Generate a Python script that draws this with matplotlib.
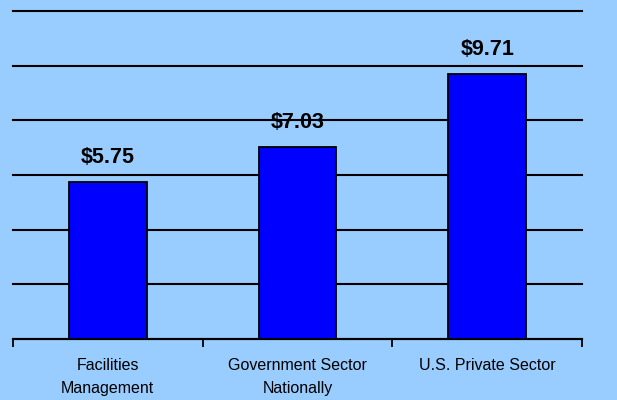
import matplotlib.pyplot as plt
import numpy as np

# data
categories = ["Facilities\nManagement", "Government Sector\nNationally", "U.S. Private Sector"]
values = [5.75, 7.03, 9.71]
value_labels = ["$5.75", "$7.03", "$9.71"]

bg = "#99CCFF"
bar_color = "#0000FF"

plt.rcParams['font.family'] = ['Liberation Sans', 'DejaVu Sans']

fig = plt.figure(figsize=(6.17, 4.0), dpi=100, facecolor=bg)
ax = fig.add_axes([13 / 617, 61 / 400, 569 / 617, 328 / 400], facecolor=bg)

x = np.arange(len(categories))
bars = ax.bar(x, values, width=0.41, color=bar_color, edgecolor="black", linewidth=1.3, zorder=3)

for b, lab in zip(bars, value_labels):
    ax.annotate(lab, (b.get_x() + b.get_width() / 2, b.get_height()),
                xytext=(0, 13.5), textcoords="offset points",
                ha="center", va="baseline", fontsize=15.5, fontweight="bold", zorder=4)

ax.set_xlim(-0.5, len(categories) - 0.5)
ax.set_ylim(0, 12)
ax.set_yticks(np.arange(0, 13, 2))
ax.yaxis.grid(True, color="black", linewidth=1.5, zorder=0)
for gl in ax.yaxis.get_gridlines():
    gl.set_clip_on(False)
ax.tick_params(axis="y", left=False, labelleft=False)

ax.set_xticks(x)
ax.set_xticklabels(categories, fontsize=11.5, linespacing=1.6)
ax.set_xticks(np.arange(-0.5, len(categories)), minor=True)
ax.tick_params(axis="x", which="major", length=0, pad=14)
ax.tick_params(axis="x", which="minor", length=6, width=1.3, color="black")

for s in ["left", "right", "top"]:
    ax.spines[s].set_visible(False)
ax.spines["bottom"].set_linewidth(1.5)
ax.spines["bottom"].set_zorder(5)

fig.savefig("out.png", dpi=100, facecolor=bg)
